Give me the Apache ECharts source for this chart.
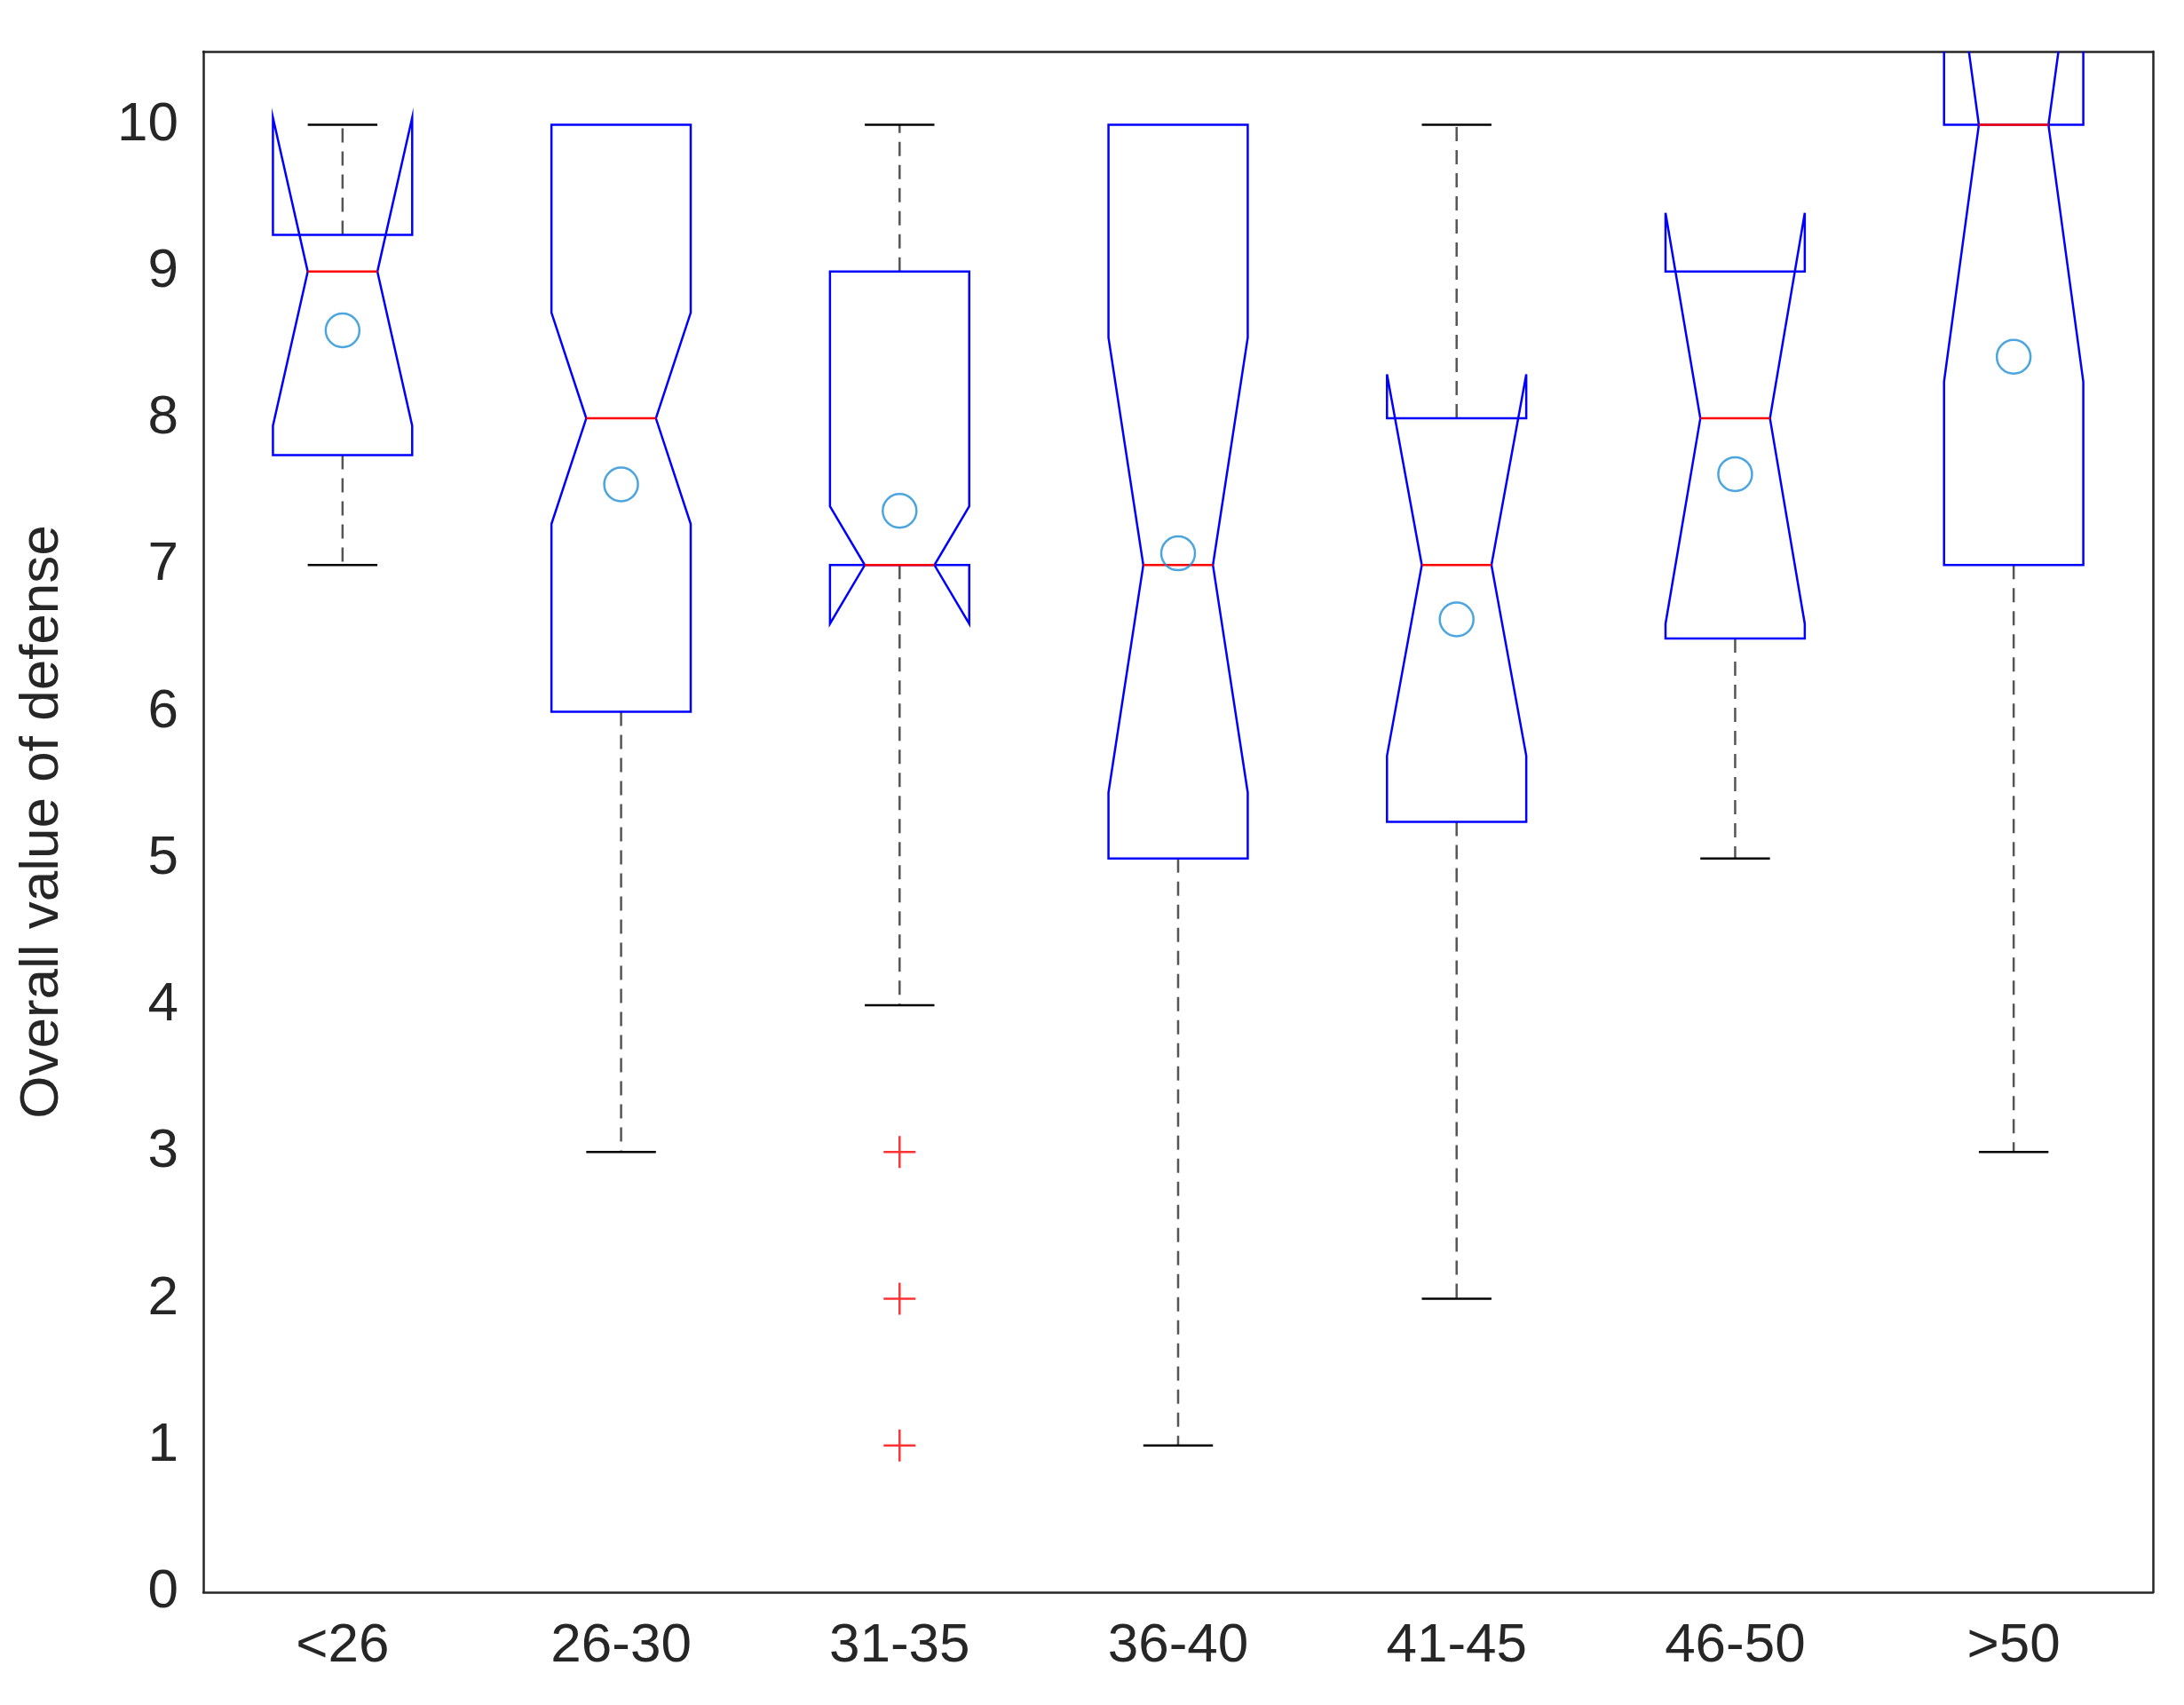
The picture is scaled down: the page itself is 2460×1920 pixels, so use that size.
<!DOCTYPE html>
<html>
<head>
<meta charset="utf-8">
<script src="https://cdn.jsdelivr.net/npm/echarts@6/dist/echarts.min.js"></script>
<style>html,body{margin:0;background:#fff}#c{width:2460px;height:1920px}</style>
</head>
<body>
<div id="c"></div>
<script>
var groups = ['<26', '26-30', '31-35', '36-40', '41-45', '46-50', '>50'];
// per group: whisker low, q1, median, q3, whisker high
var whiskerLow = [7, 3, 4, 1, 2, 5, 3];
var q1 = [7.75, 6, 7, 5, 5.25, 6.5, 7];
var median = [9, 8, 7, 7, 7, 8, 10];
var q3 = [9.25, 10, 9, 10, 8, 9, 10];
var whiskerHigh = [10, 10, 10, 10, 10, 9, 10];
var notchLow = [7.95, 7.28, 6.6, 5.45, 5.7, 6.6, 8.25];
var notchHigh = [10.05, 8.72, 7.4, 8.55, 8.3, 9.4, 11.75];
var means = [8.6, 7.55, 7.37, 7.08, 6.63, 7.62, 8.42];
var outlierGroup = [2, 2, 2];
var outlierValue = [3, 2, 1];

var boxData = groups.map(function(g, i){
	return [i, whiskerLow[i], q1[i], median[i], q3[i], whiskerHigh[i], notchLow[i], notchHigh[i]];
});

//画带凹口的箱线图
function renderBox(params, api){
	var x = api.value(0);
	var bw = api.size([1, 0])[0];
	var hw = bw * 0.25, nw = bw * 0.125;
	var cx = api.coord([x, 0])[0];
	function y(v){ return api.coord([x, v])[1]; }
	var lo = y(api.value(1)), b1 = y(api.value(2)), md = y(api.value(3)),
		b3 = y(api.value(4)), hi = y(api.value(5)), n1 = y(api.value(6)), n2 = y(api.value(7));
	var dash = {stroke: '#555', lineWidth: 2.5, lineDash: [16, 10]};
	var cap = {stroke: '#000', lineWidth: 2.5};
	var children = [];
	if (hi < b3) {
		children.push({type: 'line', shape: {x1: cx, y1: b3, x2: cx, y2: hi}, style: dash});
		children.push({type: 'line', shape: {x1: cx - nw, y1: hi, x2: cx + nw, y2: hi}, style: cap});
	}
	if (lo > b1) {
		children.push({type: 'line', shape: {x1: cx, y1: b1, x2: cx, y2: lo}, style: dash});
		children.push({type: 'line', shape: {x1: cx - nw, y1: lo, x2: cx + nw, y2: lo}, style: cap});
	}
	children.push({type: 'polygon', shape: {points: [
		[cx - hw, b1], [cx + hw, b1], [cx + hw, n1], [cx + nw, md], [cx + hw, n2],
		[cx + hw, b3], [cx - hw, b3], [cx - hw, n2], [cx - nw, md], [cx - hw, n1]
	]}, style: {fill: null, stroke: '#0000ff', lineWidth: 2.5}});
	children.push({type: 'line', shape: {x1: cx - nw, y1: md, x2: cx + nw, y2: md}, style: {stroke: '#ff0000', lineWidth: 2.5}});
	return {type: 'group', children: children};
}

var chart = echarts.init(document.getElementById('c'));
var font = {fontFamily: 'Liberation Sans', fontSize: 62, color: '#262626'};
var axisLine = {show: true, onZero: false, lineStyle: {color: '#262626', width: 2.5}};
var tick = {inside: true, length: 16, lineStyle: {color: '#262626', width: 2.5}};
var option = {
	animation: false,
	grid: {left: 229, right: 35, top: 58, bottom: 127},
	xAxis: [
		{type: 'category', data: groups, axisLine: axisLine, axisTick: Object.assign({alignWithLabel: true}, tick),
		 axisLabel: Object.assign({margin: 30}, font), splitLine: {show: false}},
		{type: 'category', position: 'top', data: groups, axisLine: axisLine, axisTick: Object.assign({alignWithLabel: true}, tick),
		 axisLabel: {show: false}}
	],
	yAxis: [
		{type: 'value', min: 0, max: 10.5, interval: 1, name: 'Overall value of defense', nameLocation: 'middle', nameGap: 150,
		 nameTextStyle: font, axisLine: axisLine, axisTick: tick,
		 axisLabel: Object.assign({margin: 28, showMaxLabel: false}, font), splitLine: {show: false}},
		{type: 'value', min: 0, max: 10.5, interval: 1, position: 'right', axisLine: axisLine,
		 axisTick: tick, axisLabel: {show: false}, splitLine: {show: false}}
	],
	series: [
		{type: 'custom', renderItem: renderBox, data: boxData, clip: true, encode: {x: 0, y: [1, 2, 3, 4, 5]}},
		{type: 'scatter', data: means.map(function(v, i){ return [i, v]; }), symbol: 'circle', symbolSize: 38,
		 itemStyle: {color: 'rgba(0,0,0,0)', borderColor: '#1f8fd6', borderWidth: 2.5}},
		{type: 'scatter', data: outlierValue.map(function(v, i){ return [outlierGroup[i], v]; }),
		 symbol: 'path://M9.3,0H10.7V9.3H20V10.7H10.7V20H9.3V10.7H0V9.3H9.3Z', symbolSize: 36, itemStyle: {color: '#ff0000'}}
	]
};
chart.setOption(option);
</script>
</body>
</html>
